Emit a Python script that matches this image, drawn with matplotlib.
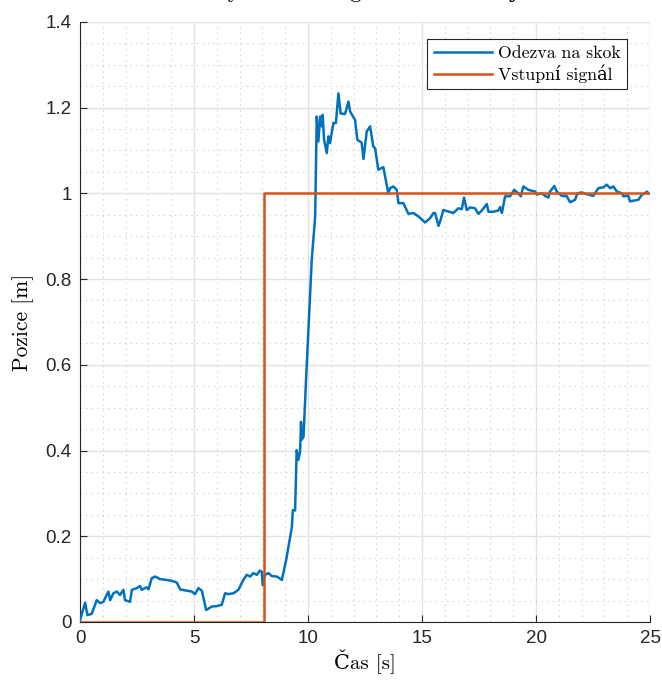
import matplotlib
matplotlib.use("Agg")
import matplotlib.pyplot as plt
from matplotlib.ticker import MultipleLocator, FuncFormatter

# Response data (time [s], position [m])
t_resp = [0.0, 0.22, 0.32, 0.51, 0.73, 0.88, 1.02, 1.24, 1.32, 1.46, 1.61, 1.75, 1.90, 1.97,
          2.19, 2.27, 2.49, 2.63, 2.70, 2.92, 3.00, 3.14, 3.29, 3.51, 3.80, 4.02, 4.24, 4.39,
          4.68, 4.90, 5.04, 5.19, 5.34, 5.53, 5.78, 6.00, 6.21, 6.36, 6.50, 6.73, 6.94, 7.16,
          7.31, 7.46, 7.60, 7.75, 7.89, 7.97, 8.01, 8.11, 8.26, 8.41, 8.63, 8.85, 9.04, 9.14,
          9.29, 9.33, 9.43, 9.50, 9.57, 9.65, 9.69, 9.72, 9.80, 9.91, 10.16, 10.31, 10.38,
          10.45, 10.53, 10.60, 10.64, 10.70, 10.82, 10.89, 10.96, 11.11, 11.22, 11.33, 11.43,
          11.62, 11.77, 11.84, 12.06, 12.16, 12.35, 12.43, 12.57, 12.72, 12.86, 12.94, 13.08,
          13.30, 13.52, 13.60, 13.74, 13.89, 13.96, 14.18, 14.40, 14.62, 14.84, 15.13, 15.35,
          15.50, 15.57, 15.72, 15.79, 15.93, 16.37, 16.59, 16.74, 16.84, 16.96, 17.11, 17.32,
          17.47, 17.62, 17.84, 17.91, 18.13, 18.35, 18.42, 18.50, 18.64, 18.86, 19.04, 19.22,
          19.33, 19.44, 19.66, 19.96, 20.03, 20.25, 20.39, 20.54, 20.61, 20.80, 20.91, 21.13,
          21.35, 21.49, 21.71, 21.81, 22.00, 22.22, 22.51, 22.73, 22.95, 23.10, 23.25, 23.39,
          23.54, 23.76, 23.83, 24.05, 24.12, 24.49, 24.64, 24.78, 24.86, 24.93]
y_resp = [0.005, 0.045, 0.016, 0.019, 0.051, 0.044, 0.047, 0.071, 0.051, 0.067, 0.071, 0.063,
          0.075, 0.051, 0.047, 0.075, 0.079, 0.084, 0.075, 0.081, 0.076, 0.102, 0.106, 0.100,
          0.098, 0.096, 0.092, 0.076, 0.073, 0.071, 0.065, 0.079, 0.073, 0.028, 0.036, 0.037,
          0.040, 0.067, 0.065, 0.067, 0.075, 0.098, 0.110, 0.106, 0.114, 0.110, 0.120, 0.117,
          0.086, 0.110, 0.114, 0.107, 0.106, 0.098, 0.145, 0.176, 0.222, 0.261, 0.260, 0.401,
          0.378, 0.398, 0.467, 0.425, 0.432, 0.565, 0.845, 0.946, 1.179, 1.121, 1.179, 1.156,
          1.183, 1.125, 1.094, 1.133, 1.117, 1.164, 1.164, 1.233, 1.186, 1.185, 1.214, 1.191,
          1.171, 1.125, 1.118, 1.080, 1.144, 1.156, 1.109, 1.105, 1.055, 1.061, 1.000, 1.012,
          1.016, 1.008, 0.977, 0.977, 0.952, 0.954, 0.946, 0.932, 0.942, 0.954, 0.954, 0.924,
          0.934, 0.961, 0.954, 0.965, 0.963, 0.990, 0.961, 0.967, 0.965, 0.952, 0.960, 0.975,
          0.957, 0.957, 0.960, 0.968, 0.954, 0.993, 0.993, 1.008, 1.000, 0.993, 1.016, 1.008,
          1.004, 0.997, 1.000, 0.994, 0.990, 1.004, 1.017, 1.004, 0.994, 0.993, 0.979, 0.985,
          1.000, 1.002, 0.998, 0.994, 1.012, 1.014, 1.020, 1.012, 1.016, 1.004, 1.000, 0.993,
          0.994, 0.981, 0.985, 0.997, 1.000, 1.004, 1.000]

# Input step signal
step_time = 8.07
t_input = [0.0, step_time, step_time, 25.0]
y_input = [0.0, 0.0, 1.0, 1.0]

labels = ["Odezva na skok", "Vstupní signál"]
xlabel = "Čas [s]"
ylabel = "Pozice [m]"
title = "Odezva systému s regulací – skokový test"

serif = ["cmr10", "DejaVu Serif"]
sans = ["Liberation Sans", "DejaVu Sans"]
plt.rcParams["axes.formatter.use_mathtext"] = False

fig = plt.figure(figsize=(6.62, 6.82), dpi=100)
ax = fig.add_axes([0.121, 0.088, 0.861, 0.880])

blue = "#0072BD"
orange = "#D95319"
ax.plot(t_resp, y_resp, color=blue, lw=1.8, label=labels[0], zorder=3)
ax.plot(t_input, y_input, color=orange, lw=1.8, label=labels[1], zorder=3)

ax.set_xlim(0, 25)
ax.set_ylim(0, 1.4)
ax.xaxis.set_major_locator(MultipleLocator(5))
ax.xaxis.set_minor_locator(MultipleLocator(1))
ax.yaxis.set_major_locator(MultipleLocator(0.2))
ax.yaxis.set_minor_locator(MultipleLocator(0.05))
ax.yaxis.set_major_formatter(FuncFormatter(lambda v, p: f"{v:.1f}".rstrip("0").rstrip(".") if v != 0 else "0"))

ax.grid(True, which="major", color="#e3e3e3", lw=1.0, ls="-", zorder=0)
ax.grid(True, which="minor", color="#c8c8c8", lw=0.8, ls=(0, (1, 4)), zorder=0)
ax.set_axisbelow(True)

for s in ["top", "right"]:
    ax.spines[s].set_visible(False)
for s in ["left", "bottom"]:
    ax.spines[s].set_color("#262626")
    ax.spines[s].set_linewidth(0.8)

ax.tick_params(which="major", direction="in", length=5, width=0.8, colors="#262626",
               labelsize=13.5, pad=6)
ax.tick_params(which="minor", length=0)
for lab in ax.get_xticklabels() + ax.get_yticklabels():
    lab.set_family(sans)
    lab.set_color("#262626")

ax.set_xlabel(xlabel, family=serif, fontsize=15, labelpad=2)
ax.set_ylabel(ylabel, family=serif, fontsize=15.5, labelpad=8)

leg = ax.legend(loc="upper right", bbox_to_anchor=(0.968, 0.98), prop={"family": serif, "size": 12.8},
                fancybox=False, framealpha=1, edgecolor="#262626", handlelength=3.3,
                borderpad=0.35, labelspacing=0.22, handletextpad=0.3, borderaxespad=0.3)
leg.get_frame().set_linewidth(0.8)

fig.text(0.53, 1.0 + 3 / 682, title, family=serif, fontsize=17, ha="center", va="baseline")

fig.savefig("out.png", dpi=100)
